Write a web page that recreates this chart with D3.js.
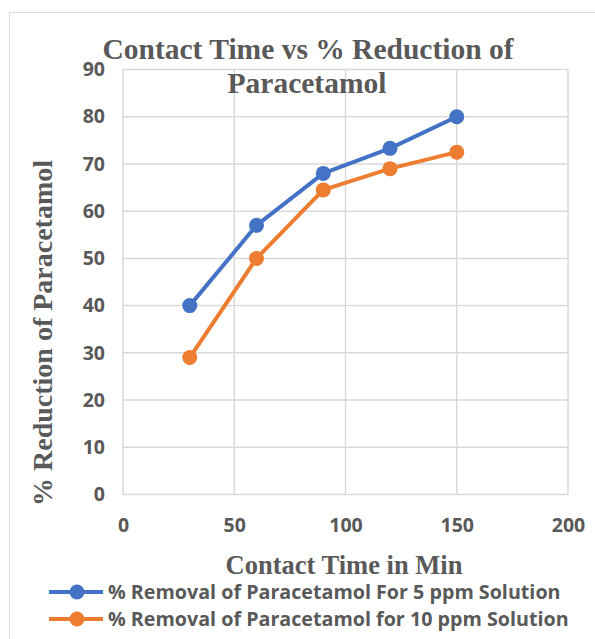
<!DOCTYPE html>
<html>
<head>
<meta charset="utf-8">
<script src="https://cdn.jsdelivr.net/npm/d3@7"></script>
<style>
  body { margin: 0; background: #fff; }
  svg text { fill: #595959; }
  .tick text { font-family: "Open Sans", "Liberation Sans", sans-serif; font-weight: bold; font-size: 19.5px; }
  .serif { font-family: "Liberation Serif", "DejaVu Serif", serif; font-weight: bold; }
</style>
</head>
<body>
<div id="chart"></div>
<script>
var contactTime = [30, 60, 90, 120, 150];
var removal5ppm = [40, 57, 68, 73.3, 80];
var removal10ppm = [29, 50, 64.5, 69, 72.5];
var xTicks = [0, 50, 100, 150, 200];
var yTicks = [0, 10, 20, 30, 40, 50, 60, 70, 80, 90];
var seriesNames = ["% Removal of Paracetamol For 5 ppm Solution",
                   "% Removal of Paracetamol for 10 ppm Solution"];
var seriesColors = ["#4472C4", "#ED7D31"];

var W = 595, H = 639;
var svg = d3.select("#chart").append("svg").attr("width", W).attr("height", H);

// chart border
svg.append("rect").attr("x", 9.5).attr("y", 12.5).attr("width", W + 10).attr("height", H + 10)
  .attr("fill", "none").attr("stroke", "#d9d9d9").attr("stroke-width", 1);

var x = d3.scaleLinear().domain([0, 200]).range([123, 568]);
var y = d3.scaleLinear().domain([0, 90]).range([494.5, 69.5]);

// gridlines
svg.append("g").selectAll("line.h").data(yTicks).enter().append("line")
  .attr("x1", x(0)).attr("x2", x(200))
  .attr("y1", function(d){ return y(d); }).attr("y2", function(d){ return y(d); })
  .attr("stroke", "#d9d9d9").attr("stroke-width", 1.5);
svg.append("g").selectAll("line.v").data(xTicks).enter().append("line")
  .attr("y1", y(0)).attr("y2", y(90))
  .attr("x1", function(d){ return x(d); }).attr("x2", function(d){ return x(d); })
  .attr("stroke", "#d9d9d9").attr("stroke-width", 1.5);

// axes (labels only)
var xAxis = svg.append("g").attr("transform", "translate(0," + y(0) + ")")
  .call(d3.axisBottom(x).tickValues(xTicks).tickSize(0).tickPadding(24));
var yAxis = svg.append("g").attr("transform", "translate(" + x(0) + ",0)")
  .call(d3.axisLeft(y).tickValues(yTicks).tickSize(0).tickPadding(18));
xAxis.select(".domain").remove();
yAxis.select(".domain").remove();

// series
var series = [removal5ppm, removal10ppm];
var line = d3.line()
  .x(function(d, i){ return x(contactTime[i]); })
  .y(function(d){ return y(d); });

series.forEach(function(vals, k) {
  svg.append("path").datum(vals).attr("d", line)
    .attr("fill", "none").attr("stroke", seriesColors[k]).attr("stroke-width", 4)
    .attr("stroke-linejoin", "round");
  svg.append("g").selectAll("circle").data(vals).enter().append("circle")
    .attr("cx", function(d, i){ return x(contactTime[i]); })
    .attr("cy", function(d){ return y(d); })
    .attr("r", 7.5).attr("fill", seriesColors[k]);
});

// titles
var title = svg.append("text").attr("class", "serif").attr("text-anchor", "middle")
  .attr("font-size", 29.5);
title.append("tspan").attr("x", 308).attr("y", 59).text("Contact Time vs % Reduction of");
title.append("tspan").attr("x", 307).attr("y", 93).text("Paracetamol");

svg.append("text").attr("class", "serif").attr("text-anchor", "middle")
  .attr("font-size", 26.5).attr("x", 344).attr("y", 574).text("Contact Time in Min");

svg.append("text").attr("class", "serif").attr("text-anchor", "middle")
  .attr("font-size", 28)
  .attr("transform", "translate(52,333) rotate(-90)")
  .text("% Reduction of Paracetamol");

// legend
var legend = svg.append("g").selectAll("g").data(seriesNames).enter().append("g")
  .attr("transform", function(d, i){ return "translate(0," + (592 + i * 27) + ")"; });
legend.append("line").attr("x1", 49).attr("x2", 103).attr("y1", 0).attr("y2", 0)
  .attr("stroke", function(d, i){ return seriesColors[i]; }).attr("stroke-width", 4);
legend.append("circle").attr("cx", 77).attr("cy", 0).attr("r", 7.5)
  .attr("fill", function(d, i){ return seriesColors[i]; });
legend.append("text").attr("x", 108).attr("y", 7)
  .attr("font-family", "'Open Sans', 'Liberation Sans', sans-serif")
  .attr("font-weight", "bold").attr("font-size", 19.7)
  .text(function(d){ return d; });
</script>
</body>
</html>
